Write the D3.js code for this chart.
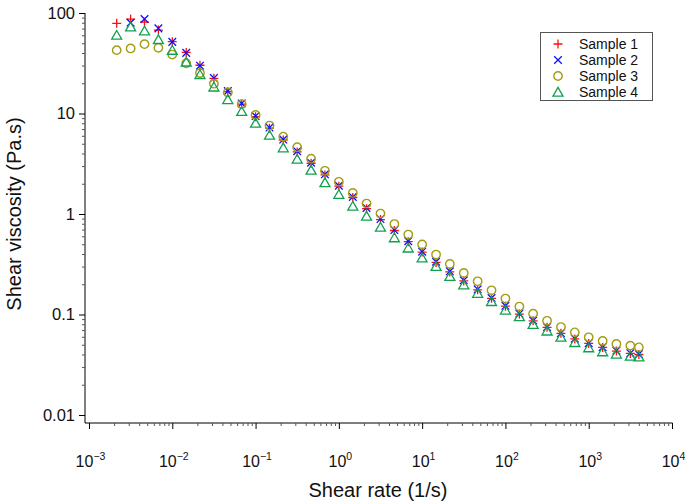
<!DOCTYPE html>
<html><head><meta charset="utf-8">
<script src="https://cdn.jsdelivr.net/npm/d3@7"></script>
<style>body{margin:0;background:#fff} svg{display:block;font-family:"Liberation Sans",Arial,sans-serif}</style>
</head><body><svg id="c" width="685" height="503"></svg>
<script>
const shearRate = [0.00215, 0.00316, 0.00464, 0.00681, 0.01, 0.0147, 0.0215, 0.0316, 0.0464, 0.0681, 0.1, 0.147, 0.215, 0.316, 0.464, 0.681, 1, 1.47, 2.15, 3.16, 4.64, 6.81, 10, 14.7, 21.5, 31.6, 46.4, 68.1, 100, 147, 215, 316, 464, 681, 1000, 1470, 2150, 3160, 4000];
const sample1 = [79, 87, 81, 67.6, 51.9, 40.5, 30.2, 22.4, 16.5, 12.4, 9.3, 7.15, 5.45, 4.15, 3.2, 2.45, 1.89, 1.46, 1.13, 0.88, 0.685, 0.53, 0.418, 0.33, 0.265, 0.216, 0.176, 0.145, 0.121, 0.101, 0.0865, 0.0745, 0.065, 0.0572, 0.0516, 0.047, 0.0433, 0.041, 0.040];
const sample2 = [null, 80, 87.1, 70.3, 51.6, 40.1, 29.9, 22.5, 16.7, 12.6, 9.44, 7.24, 5.5, 4.22, 3.24, 2.48, 1.91, 1.48, 1.15, 0.891, 0.692, 0.537, 0.422, 0.335, 0.269, 0.219, 0.178, 0.146, 0.122, 0.102, 0.0871, 0.075, 0.0653, 0.0575, 0.0519, 0.0473, 0.0437, 0.0412, 0.0403];
const sample3 = [42.7, 44.4, 49, 45, 38.6, 31.6, 25.3, 19.8, 16.2, 12.4, 9.66, 7.59, 5.89, 4.62, 3.55, 2.69, 2.09, 1.62, 1.27, 1.01, 0.794, 0.624, 0.498, 0.395, 0.318, 0.259, 0.214, 0.174, 0.144, 0.12, 0.102, 0.0865, 0.075, 0.0664, 0.0593, 0.0546, 0.0509, 0.049, 0.0471];
const sample4 = [60.3, 73, 66.5, 54.6, 42.7, 32.6, 24.5, 18.4, 13.8, 10.5, 8.04, 6.1, 4.57, 3.52, 2.74, 2.06, 1.57, 1.2, 0.955, 0.741, 0.582, 0.46, 0.366, 0.302, 0.24, 0.198, 0.163, 0.135, 0.111, 0.0955, 0.08, 0.0687, 0.0596, 0.0528, 0.0468, 0.0427, 0.0405, 0.0386, 0.038];
const seriesNames = ["Sample 1", "Sample 2", "Sample 3", "Sample 4"];
const xExponents = [-3, -2, -1, 0, 1, 2, 3, 4];
const yTickLabels = ["0.01", "0.1", "1", "10", "100"];
const yTickValues = [0.01, 0.1, 1, 10, 100];

const colors = ["#ff1010", "#1010ff", "#a39d12", "#10a050"];
const shapes = ["plus", "cross", "circle", "triangle"];
const allSeries = [sample1, sample2, sample3, sample4];

const svg = d3.select("#c");
const x = d3.scaleLog().domain([1e-3, 1e4]).range([89, 672]);
const y = d3.scaleLog().domain([0.01, 100]).range([415, 13]);
const axX = 85, axY = 423;

function marker(g, shape, color) {
  if (shape === "circle") {
    g.append("circle").attr("r", 4.2).attr("fill", "none").attr("stroke", color).attr("stroke-width", 1.4);
  } else {
    let d;
    if (shape === "plus") d = "M-4.5,0H4.5M0,-4.5V4.5";
    else if (shape === "cross") d = "M-3.8,-3.8L3.8,3.8M-3.8,3.8L3.8,-3.8";
    else d = "M0,-4.6L5,4.1L-5,4.1Z";
    g.append("path").attr("d", d).attr("fill", "none").attr("stroke", color).attr("stroke-width", 1.3);
  }
}

// axis lines
svg.append("line").attr("x1", axX).attr("x2", axX).attr("y1", y(100)).attr("y2", axY).attr("stroke", "#000").attr("stroke-width", 1);
svg.append("line").attr("x1", axX).attr("x2", x(1e4) + 0.5).attr("y1", axY).attr("y2", axY).attr("stroke", "#000").attr("stroke-width", 1);

// y ticks
const yMinor = y.ticks().filter(v => !yTickValues.some(t => Math.abs(t - v) / t < 1e-9));
const yAxisMinor = d3.axisLeft(y).tickValues(yMinor).tickSize(3).tickFormat("");
const gyMin = svg.append("g").attr("transform", `translate(${axX},0)`).call(yAxisMinor);
gyMin.select(".domain").remove();
gyMin.selectAll("line").attr("stroke", "#555");
const yAxisMajor = d3.axisLeft(y).tickValues(yTickValues).tickSize(6).tickPadding(4).tickFormat((d, i) => yTickLabels[i]);
const gy = svg.append("g").attr("transform", `translate(${axX},0)`).call(yAxisMajor);
gy.select(".domain").remove();
gy.selectAll("text").attr("font-size", 16.5).attr("fill", "#111").attr("font-family", "Liberation Sans, Arial, sans-serif");

// x ticks
const xMajorVals = xExponents.map(e => Math.pow(10, e));
const xMinor = x.ticks().filter(v => !xMajorVals.some(t => Math.abs(t - v) / t < 1e-9));
const gxMin = svg.append("g").attr("transform", `translate(0,${axY})`).call(d3.axisBottom(x).tickValues(xMinor).tickSize(3).tickFormat(""));
gxMin.select(".domain").remove();
gxMin.selectAll("line").attr("stroke", "#555");
const gx = svg.append("g").attr("transform", `translate(0,${axY})`).call(d3.axisBottom(x).tickValues(xMajorVals).tickSize(6).tickFormat(""));
gx.select(".domain").remove();
const xl = svg.append("g").attr("font-size", 16).attr("fill", "#111");
xExponents.forEach((e, i) => {
  const t = xl.append("text").attr("x", x(xMajorVals[i]) + 1.5).attr("y", 467).attr("text-anchor", "middle");
  t.append("tspan").text("10");
  t.append("tspan").attr("font-size", 10.5).attr("dy", -7).text(e < 0 ? "\u2212" + (-e) : String(e));
});

// titles
svg.append("text").attr("x", 378).attr("y", 497).attr("text-anchor", "middle").attr("font-size", 20).attr("fill", "#111").text("Shear rate (1/s)");
svg.append("text").attr("transform", "translate(21,214) rotate(-90)").attr("text-anchor", "middle").attr("font-size", 20).attr("fill", "#111").text("Shear viscosity (Pa.s)");

// points
allSeries.forEach((vals, si) => {
  const g = svg.append("g");
  vals.forEach((v, i) => {
    if (v == null) return;
    const m = g.append("g").attr("transform", `translate(${x(shearRate[i])},${y(v)})`);
    marker(m, shapes[si], colors[si]);
  });
});

// legend
const lg = svg.append("g");
lg.append("rect").attr("x", 540.5).attr("y", 32.5).attr("width", 112).attr("height", 68).attr("fill", "#fff").attr("stroke", "#555").attr("stroke-width", 1);
seriesNames.forEach((n, i) => {
  const cy = 44 + i * 16;
  const m = lg.append("g").attr("transform", `translate(558,${cy})`);
  marker(m, shapes[i], colors[i]);
  lg.append("text").attr("x", 579).attr("y", cy + 5).attr("font-size", 14).attr("fill", "#111").text(n);
});
</script></body></html>
